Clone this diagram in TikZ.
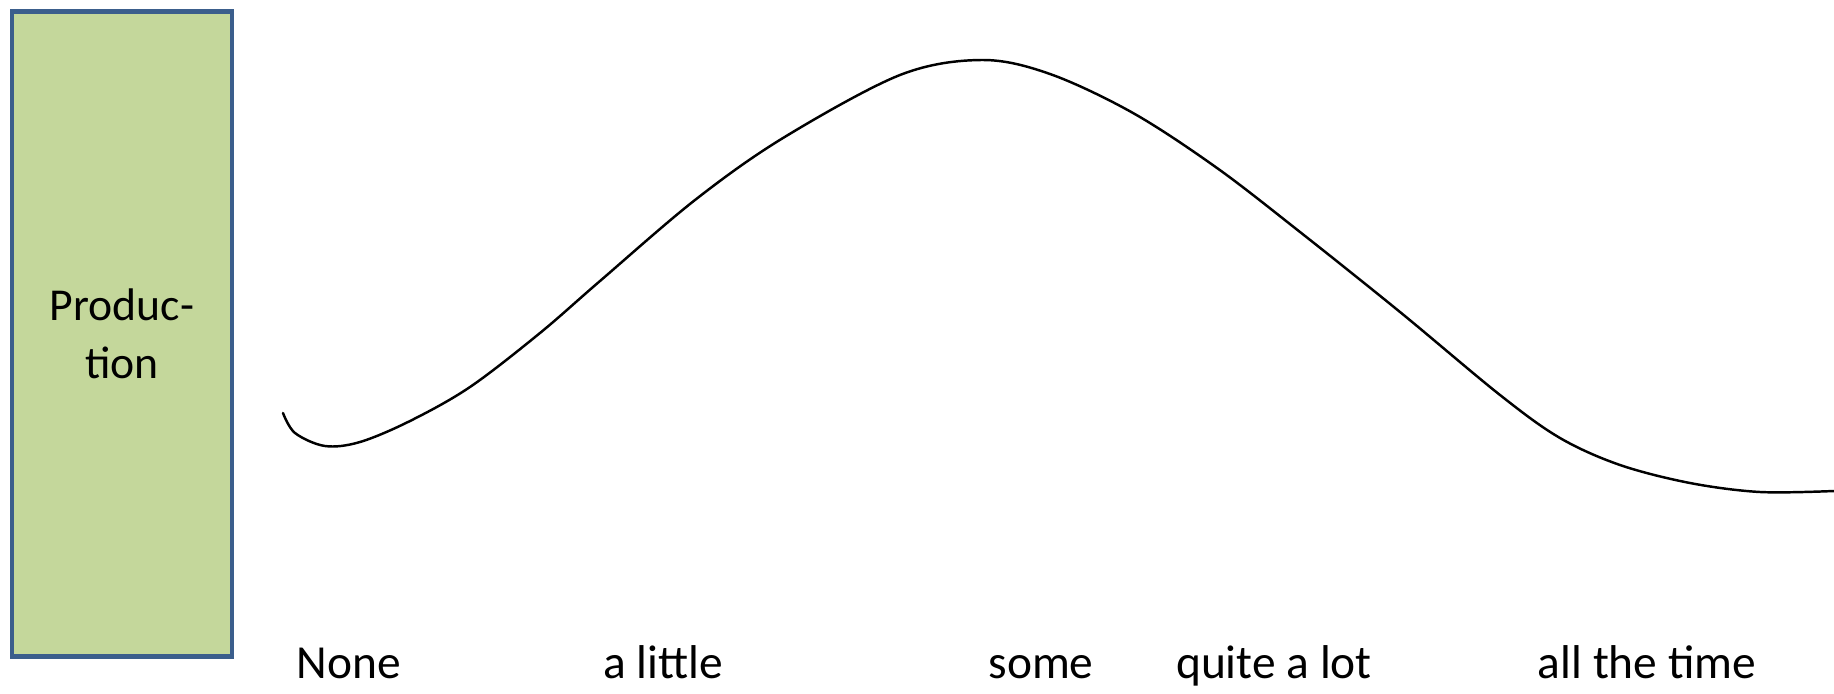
\documentclass[tikz,border=0pt]{standalone}
\usepackage{fontspec}
\setmainfont{Carlito}
\usepackage{xcolor}
\usepackage{tikz}
\usetikzlibrary{positioning}
\definecolor{boxfill}{HTML}{C4D79B}
\definecolor{boxline}{HTML}{3B5E8C}
\tikzset{
prodbox/.style={
draw=boxline,
line width=2.8pt,
fill=boxfill,
minimum width=4.4cm,
minimum height=12.92cm,
align=center,
font=\fontsize{26}{33}\selectfont
},
level/.style={
anchor=base,
font=\fontsize{27}{32}\selectfont
},
curve/.style={
line width=1.4pt,
line cap=round,
line join=round
}
}
\begin{document}
\begin{tikzpicture}[x=0.02cm,y=-0.02cm]
\useasboundingbox (0,0) rectangle (1834,693);
\node[prodbox](p) at (122,334){Produc-\\tion};
\node[level](none) at (349,678){None};
\node[level](little) at (663,678){a little};
\node[level](some) at (1041,678){some};
\node[level](lot) at (1274,678){quite a lot};
\node[level](always) at (1647,678){all the time};

\draw[curve] plot[smooth,tension=0.55] coordinates{
(283,413) (295,433) (325,446) (360,442) (410,421) (470,387)
(540,333) (600,281) (695,200) (783,138) (900,75) (982,60) (1050,74)
(1133,113) (1217,168) (1300,232) (1400,312) (1500,395)
(1560,438) (1620,465) (1690,483) (1760,492) (1834,491)};
\end{tikzpicture}
\end{document}
